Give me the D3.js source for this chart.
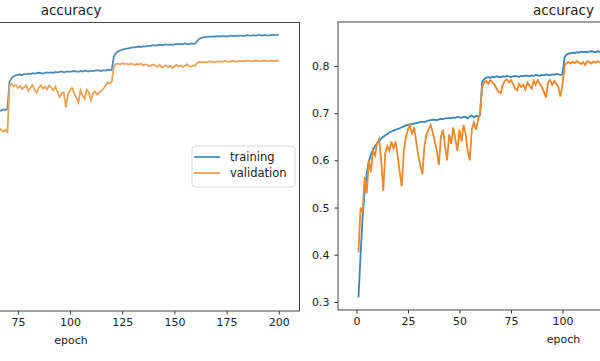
<!DOCTYPE html>
<html>
<head>
<meta charset="utf-8">
<script src="https://cdn.jsdelivr.net/npm/d3@7"></script>
<style>
  body { margin: 0; background: #fff; }
  text { font-family: "DejaVu Sans", sans-serif; fill: #222; }
</style>
</head>
<body>
<div id="chart"></div>
<script>
// left panel (only epochs 64..200 fall inside the crop)
var leftStart = 64;
var leftTrain = [
  0.726, 0.728, 0.727, 0.729, 0.731, 0.730, 0.733,
  0.795, 0.803, 0.807, 0.809, 0.810, 0.811, 0.810, 0.812, 0.812, 0.813,
  0.812, 0.814, 0.813, 0.814, 0.815, 0.814, 0.813, 0.815, 0.816, 0.815,
  0.816, 0.815, 0.817, 0.816, 0.817, 0.818, 0.816, 0.817, 0.818, 0.817,
  0.818, 0.819, 0.818, 0.817, 0.819, 0.818, 0.820, 0.819, 0.818, 0.820,
  0.819, 0.820, 0.821, 0.820, 0.819, 0.821, 0.820, 0.822, 0.821, 0.822,
  0.852, 0.860, 0.864, 0.866, 0.868, 0.869, 0.870, 0.871, 0.872, 0.873,
  0.873, 0.874, 0.875, 0.874, 0.876, 0.875, 0.877, 0.876, 0.877, 0.878,
  0.877, 0.878, 0.879, 0.878, 0.879, 0.880, 0.879, 0.880, 0.879, 0.880,
  0.881, 0.880, 0.881, 0.880, 0.882, 0.881, 0.880, 0.882, 0.881, 0.882,
  0.888, 0.893, 0.895, 0.896, 0.897, 0.897, 0.898, 0.897, 0.898, 0.898,
  0.899, 0.898, 0.899, 0.899, 0.898, 0.899, 0.900, 0.899, 0.900, 0.899,
  0.900, 0.900, 0.899, 0.900, 0.901, 0.900, 0.900, 0.901, 0.900, 0.901,
  0.901, 0.900, 0.901, 0.901, 0.900, 0.901, 0.902, 0.901, 0.901, 0.902
];
var leftVal = [
  0.695, 0.690, 0.688, 0.684, 0.680, 0.685, 0.679,
  0.786, 0.790, 0.784, 0.787, 0.780, 0.785, 0.778, 0.782, 0.786, 0.774,
  0.780, 0.787, 0.776, 0.770, 0.781, 0.786, 0.779, 0.783, 0.777, 0.786,
  0.781, 0.775, 0.783, 0.772, 0.760, 0.768, 0.770, 0.736, 0.765, 0.776,
  0.780, 0.768, 0.758, 0.747, 0.775, 0.763, 0.756, 0.776, 0.770, 0.752,
  0.768, 0.772, 0.765, 0.770, 0.774, 0.779, 0.786, 0.793, 0.790, 0.795,
  0.830, 0.835, 0.836, 0.834, 0.837, 0.835, 0.836, 0.834, 0.836, 0.835,
  0.833, 0.835, 0.834, 0.836, 0.832, 0.834, 0.833, 0.830, 0.832, 0.834,
  0.831, 0.829, 0.833, 0.827, 0.830, 0.832, 0.828, 0.831, 0.826, 0.830,
  0.833, 0.829, 0.832, 0.828, 0.831, 0.834, 0.830, 0.829, 0.832, 0.831,
  0.838, 0.840, 0.839, 0.840, 0.839, 0.840, 0.841, 0.840, 0.839, 0.841,
  0.840, 0.841, 0.840, 0.842, 0.841, 0.840, 0.841, 0.842, 0.841, 0.840,
  0.842, 0.841, 0.842, 0.841, 0.843, 0.842, 0.841, 0.842, 0.843, 0.842,
  0.841, 0.842, 0.843, 0.842, 0.841, 0.843, 0.842, 0.842, 0.843, 0.842
];

// right panel (epochs 1..120 fall inside the crop)
var rightStart = 1;
var rightTrain = [
  0.310, 0.400, 0.480, 0.535, 0.572, 0.598, 0.612, 0.622, 0.630, 0.636,
  0.641, 0.646, 0.650, 0.653, 0.656, 0.659, 0.661, 0.663, 0.665, 0.666,
  0.668, 0.670, 0.672, 0.674, 0.675, 0.676, 0.677, 0.678, 0.679, 0.680,
  0.681, 0.682, 0.681, 0.683, 0.684, 0.685, 0.686, 0.686, 0.685, 0.687,
  0.688, 0.687, 0.689, 0.689, 0.690, 0.689, 0.691, 0.690, 0.692, 0.691,
  0.690, 0.692, 0.692, 0.689, 0.693, 0.695, 0.691, 0.694, 0.693, 0.696,
  0.765, 0.772, 0.775, 0.776, 0.775, 0.777, 0.776, 0.778, 0.777, 0.776,
  0.778, 0.777, 0.779, 0.778, 0.776, 0.778, 0.779, 0.778, 0.777, 0.779,
  0.778, 0.780, 0.779, 0.778, 0.780, 0.779, 0.781, 0.780, 0.779, 0.781,
  0.780, 0.782, 0.781, 0.780, 0.782, 0.781, 0.783, 0.782, 0.781, 0.782,
  0.818, 0.824, 0.826, 0.827, 0.828, 0.827, 0.829, 0.828, 0.830, 0.829,
  0.830, 0.829, 0.830, 0.831, 0.830, 0.829, 0.831, 0.830, 0.831, 0.830
];
var rightVal = [
  0.405, 0.500, 0.490, 0.565, 0.530, 0.600, 0.575, 0.620, 0.610, 0.635,
  0.645, 0.600, 0.535, 0.615, 0.630, 0.620, 0.640, 0.625, 0.640, 0.610,
  0.575, 0.545, 0.620, 0.650, 0.665, 0.675, 0.655, 0.670, 0.640, 0.610,
  0.590, 0.570, 0.630, 0.655, 0.665, 0.675, 0.660, 0.640, 0.620, 0.590,
  0.650, 0.665, 0.630, 0.600, 0.655, 0.635, 0.670, 0.645, 0.620, 0.665,
  0.640, 0.675, 0.655, 0.620, 0.600, 0.665, 0.680, 0.665, 0.685, 0.700,
  0.755, 0.765, 0.768, 0.762, 0.770, 0.765, 0.760, 0.752, 0.745, 0.742,
  0.760, 0.768, 0.772, 0.765, 0.770, 0.762, 0.752, 0.748, 0.762, 0.755,
  0.760, 0.750, 0.765, 0.758, 0.752, 0.768, 0.760, 0.770, 0.762, 0.755,
  0.745, 0.733, 0.765, 0.770, 0.760, 0.768, 0.762, 0.755, 0.735, 0.760,
  0.800, 0.806, 0.808, 0.805, 0.809, 0.806, 0.810, 0.807, 0.804, 0.808,
  0.802, 0.810, 0.808, 0.805, 0.809, 0.807, 0.810, 0.808, 0.806, 0.809
];

var xTicks = [0, 25, 50, 75, 100, 125, 150, 175, 200];
var leftYTicks = [0.3, 0.4, 0.5, 0.6, 0.7, 0.8, 0.9];
var rightYTicks = [0.3, 0.4, 0.5, 0.6, 0.7, 0.8];
var seriesNames = ["training", "validation"];

var W = 600, H = 361;
var svg = d3.select("#chart").append("svg")
    .attr("width", W)
    .attr("height", H);

svg.append("rect").attr("width", W).attr("height", H).attr("fill", "#fff");

function toPoints(start, values) {
  return values.map(function(v, i) { return {e: start + i, v: v}; });
}

function drawPanel(p) {
  var x = d3.scaleLinear().domain([-8.95, 209.95]).range([p.left, p.right]);
  var y = d3.scaleLinear().domain(p.yDomain).range([p.bottom, p.top]);
  var g = svg.append("g");

  g.append("clipPath").attr("id", p.id)
    .append("rect")
      .attr("x", p.left).attr("y", p.top)
      .attr("width", p.right - p.left).attr("height", p.bottom - p.top);

  var line = d3.line()
      .x(function(d) { return x(d.e); })
      .y(function(d) { return y(d.v); });

  var lines = g.append("g").attr("clip-path", "url(#" + p.id + ")");
  [p.train, p.val].forEach(function(s, i) {
    lines.append("path")
        .datum(toPoints(p.start, s))
        .attr("d", line)
        .attr("fill", "none")
        .attr("stroke", p.colors[i])
        .attr("stroke-width", 1.8);
  });

  // only the ticks that land inside the cropped picture
  var visX = xTicks.filter(function(t) { return x(t) > 8 && x(t) < W - 8; });
  var xa = g.append("g")
      .attr("transform", "translate(0," + p.bottom + ")")
      .call(d3.axisBottom(x).tickValues(visX).tickSize(3.5).tickPadding(4).tickFormat(d3.format("d")));
  xa.select(".domain").remove();
  xa.selectAll("line").attr("stroke", "#333");
  xa.selectAll("text").style("font-size", "11px").attr("fill", "#222");

  if (p.left > 0) {
    var ya = g.append("g")
        .attr("transform", "translate(" + p.left + ",0)")
        .call(d3.axisLeft(y).tickValues(p.yTicks).tickSize(3.5).tickPadding(5).tickFormat(d3.format(".1f")));
    ya.select(".domain").remove();
    ya.selectAll("line").attr("stroke", "#333");
    ya.selectAll("text").style("font-size", "11px").attr("fill", "#222");
  }

  // frame
  g.append("rect")
      .attr("x", p.left).attr("y", p.top)
      .attr("width", p.right - p.left).attr("height", p.bottom - p.top)
      .attr("fill", "none")
      .attr("stroke", "#444")
      .attr("stroke-width", 1);

  g.append("text")
      .attr("x", (p.left + p.right) / 2)
      .attr("y", 15)
      .attr("text-anchor", "middle")
      .style("font-size", "13.5px")
      .text("accuracy");

  g.append("text")
      .attr("x", (p.left + p.right) / 2)
      .attr("y", p.bottom + 33)
      .attr("text-anchor", "middle")
      .style("font-size", "11px")
      .text("epoch");

  if (p.legend) {
    var lg = g.append("g").attr("transform", "translate(192,146)");
    lg.append("rect")
        .attr("width", 103).attr("height", 41)
        .attr("rx", 3)
        .attr("fill", "#fff")
        .attr("stroke", "#d8d8d8");
    seriesNames.forEach(function(name, i) {
      lg.append("line")
          .attr("x1", 2).attr("x2", 28)
          .attr("y1", 11 + i * 16).attr("y2", 11 + i * 16)
          .attr("stroke", p.colors[i])
          .attr("stroke-width", 1.8);
      lg.append("text")
          .attr("x", 38)
          .attr("y", 15 + i * 16)
          .style("font-size", "11.5px")
          .text(name);
    });
  }
}

drawPanel({
  id: "clipL", left: -157.3, right: 299.5, top: 22.5, bottom: 311,
  yDomain: [0.27, 0.93], yTicks: leftYTicks,
  start: leftStart, train: leftTrain, val: leftVal,
  colors: ["#4f8db8", "#e8a458"], legend: true
});

drawPanel({
  id: "clipR", left: 338, right: 789, top: 22, bottom: 310,
  yDomain: [0.283, 0.893], yTicks: rightYTicks,
  start: rightStart, train: rightTrain, val: rightVal,
  colors: ["#3a85b8", "#f0882f"], legend: false
});
</script>
</body>
</html>
